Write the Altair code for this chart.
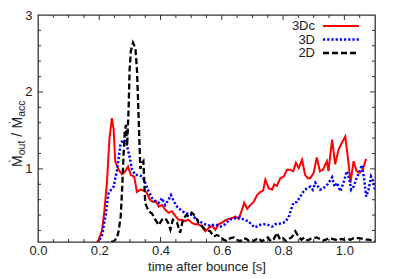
import altair as alt
import pandas as pd

# ---------------- data ----------------
red_t = [0.190, 0.198, 0.209, 0.216, 0.225, 0.233, 0.241, 0.247, 0.252, 0.263, 0.274, 0.283,
         0.294, 0.303, 0.314, 0.323, 0.334, 0.345, 0.355, 0.365, 0.375, 0.385, 0.394, 0.405,
         0.415, 0.426, 0.437, 0.448, 0.459, 0.470, 0.480, 0.491, 0.502, 0.513, 0.524, 0.535,
         0.546, 0.557, 0.568, 0.579, 0.589, 0.600, 0.611, 0.622, 0.633, 0.644, 0.655, 0.666,
         0.673, 0.683, 0.693, 0.704, 0.715, 0.726, 0.735, 0.742, 0.753, 0.764, 0.771, 0.780,
         0.791, 0.802, 0.813, 0.823, 0.833, 0.842, 0.851, 0.862, 0.872, 0.880, 0.889, 0.900,
         0.910, 0.920, 0.930, 0.943, 0.948, 0.960, 0.970, 0.981, 0.992, 1.003, 1.014, 1.020,
         1.030, 1.040, 1.050, 1.060, 1.071]
red_v = [0.03, 0.08, 0.20, 0.43, 0.82, 1.38, 1.66, 1.51, 1.10, 0.99, 0.93, 0.96,
         1.03, 0.92, 0.90, 0.70, 0.73, 0.72, 0.69, 0.60, 0.57, 0.58, 0.51, 0.53,
         0.47, 0.43, 0.45, 0.39, 0.34, 0.34, 0.32, 0.34, 0.30, 0.28, 0.28, 0.25,
         0.19, 0.23, 0.26, 0.21, 0.28, 0.30, 0.33, 0.35, 0.36, 0.38, 0.35, 0.47,
         0.56, 0.48, 0.53, 0.57, 0.66, 0.70, 0.72, 0.86, 0.75, 0.73, 0.80, 0.78,
         0.88, 0.90, 0.99, 0.99, 0.97, 1.08, 1.01, 1.12, 0.92, 0.88, 0.88, 0.95,
         1.15, 0.97, 0.99, 1.10, 0.97, 1.38, 1.06, 1.25, 1.34, 1.42, 1.06, 0.82,
         1.10, 0.97, 0.95, 0.99, 1.13]

blue_t = [0.195, 0.209, 0.220, 0.230, 0.240, 0.247, 0.258, 0.269, 0.277, 0.288, 0.299, 0.307,
          0.318, 0.329, 0.340, 0.350, 0.361, 0.372, 0.383, 0.394, 0.405, 0.415, 0.426, 0.434,
          0.443, 0.454, 0.470, 0.486, 0.502, 0.519, 0.535, 0.546, 0.562, 0.579, 0.595, 0.611,
          0.625, 0.644, 0.660, 0.671, 0.687, 0.698, 0.709, 0.720, 0.736, 0.753, 0.764, 0.774,
          0.791, 0.807, 0.818, 0.826, 0.834, 0.845, 0.856, 0.867, 0.878, 0.889, 0.897, 0.905,
          0.914, 0.921, 0.932, 0.945, 0.960, 0.968, 0.976, 0.987, 0.997, 1.008, 1.017, 1.022,
          1.030, 1.040, 1.052, 1.057, 1.065, 1.071, 1.079, 1.087, 1.094, 1.100]
blue_v = [0.03, 0.14, 0.38, 0.68, 0.74, 0.77, 0.99, 1.31, 1.38, 1.34, 1.16, 0.99,
          0.92, 0.92, 0.90, 0.82, 0.71, 0.62, 0.58, 0.56, 0.62, 0.53, 0.60, 0.66,
          0.58, 0.51, 0.45, 0.42, 0.40, 0.34, 0.30, 0.28, 0.26, 0.28, 0.25, 0.28,
          0.34, 0.36, 0.37, 0.34, 0.32, 0.27, 0.24, 0.27, 0.28, 0.27, 0.25, 0.28,
          0.29, 0.31, 0.37, 0.47, 0.56, 0.57, 0.64, 0.71, 0.75, 0.77, 0.73, 0.82,
          0.77, 0.73, 0.75, 0.80, 0.89, 0.77, 0.82, 0.71, 0.82, 0.97, 0.86, 0.73,
          0.77, 0.88, 0.99, 1.05, 0.86, 0.64, 0.73, 0.90, 0.84, 0.73]

black_t = [0.210, 0.230, 0.247, 0.258, 0.263, 0.270, 0.275, 0.279, 0.283, 0.287, 0.291, 0.296,
           0.299, 0.303, 0.310, 0.318, 0.323, 0.328, 0.334, 0.340, 0.344, 0.350, 0.356, 0.361,
           0.372, 0.383, 0.394, 0.405, 0.415, 0.425, 0.432, 0.440, 0.454, 0.464, 0.473, 0.484,
           0.493, 0.502, 0.513, 0.524, 0.535, 0.546, 0.562, 0.573, 0.584, 0.595, 0.606, 0.617,
           0.628, 0.640, 0.650, 0.660, 0.670, 0.680, 0.690, 0.700, 0.710, 0.720, 0.730, 0.740,
           0.750, 0.760, 0.770, 0.780, 0.790, 0.800, 0.810, 0.820, 0.830, 0.840, 0.850, 0.860,
           0.870, 0.880, 0.890, 0.900, 0.910, 0.920, 0.930, 0.940, 0.950, 0.960, 0.970, 0.980,
           0.990, 1.000, 1.010, 1.020, 1.030, 1.040, 1.050, 1.060, 1.070, 1.080, 1.090, 1.100]
black_v = [0.03, 0.04, 0.06, 0.10, 0.19, 0.38, 0.77, 1.16, 1.47, 1.57, 1.30, 1.81,
           2.29, 2.53, 2.64, 2.57, 2.29, 1.73, 1.00, 1.08, 1.10, 0.55, 0.50, 0.45,
           0.42, 0.34, 0.27, 0.34, 0.36, 0.30, 0.21, 0.34, 0.30, 0.17, 0.34, 0.40,
           0.38, 0.43, 0.39, 0.30, 0.26, 0.21, 0.19, 0.12, 0.14, 0.12, 0.08, 0.06,
           0.10, 0.11, 0.08, 0.06, 0.10, 0.09, 0.06, 0.05, 0.08, 0.10, 0.06, 0.08,
           0.11, 0.06, 0.09, 0.17, 0.08, 0.10, 0.06, 0.09, 0.12, 0.19, 0.12, 0.08,
           0.11, 0.07, 0.09, 0.10, 0.11, 0.09, 0.07, 0.08, 0.10, 0.09, 0.08, 0.07,
           0.09, 0.08, 0.09, 0.08, 0.10, 0.10, 0.10, 0.09, 0.08, 0.08, 0.07, 0.06]

series_names = ["3Dc", "3D", "2D"]
series_colors = ["#ff0000", "#0000ff", "#000000"]
series_dash = [[1, 0], [2.2, 2], [6, 3]]
series_width = [2.0, 2.5, 2.3]

x_labels = [0.0, 0.2, 0.4, 0.6, 0.8, 1.0]
y_labels = [1, 2, 3]
x_major = [0.2, 0.4, 0.6, 0.8, 1.0]
x_minor = [0.05, 0.1, 0.15, 0.25, 0.3, 0.35, 0.45, 0.5, 0.55, 0.65, 0.7, 0.75,
           0.85, 0.9, 0.95, 1.05]
y_major = [1, 2]
y_minor = [0.2, 0.4, 0.6, 0.8, 1.2, 1.4, 1.6, 1.8, 2.2, 2.4, 2.6, 2.8]

W, H = 337, 227
FONT = "Liberation Sans"
TXT = "#222222"

xscale = alt.Scale(domain=[0, 1.1], nice=False, zero=False)
yscale = alt.Scale(domain=[0.05, 3], nice=False, zero=False)
xaxis = alt.Axis(values=x_labels, format=".1f", tickSize=0, domain=False, grid=False,
                 labelFontSize=13, labelFont=FONT, labelColor=TXT, labelPadding=2,
                 labelFlush=False, labelOverlap=False,
                 title="time after bounce [s]", titleFont=FONT, titleFontSize=13,
                 titleFontWeight="normal", titleColor=TXT, titlePadding=3)
yaxis = alt.Axis(values=y_labels, format="d", tickSize=0, domain=False, grid=False,
                 labelFontSize=13, labelFont=FONT, labelColor=TXT, labelPadding=6,
                 labelFlush=False, labelOverlap=False, title=None)


def xe():
    return alt.X("t:Q", scale=xscale, axis=xaxis)


def ye():
    return alt.Y("v:Q", scale=yscale, axis=yaxis)


layers = []
for name, tt, vv, col, dash, sw in zip(series_names, [red_t, blue_t, black_t],
                                       [red_v, blue_v, black_v], series_colors,
                                       series_dash, series_width):
    d = pd.DataFrame({"t": tt, "v": vv})
    layers.append(
        alt.Chart(d).mark_line(clip=True, color=col, strokeDash=dash, strokeWidth=sw,
                               strokeCap="butt", strokeJoin="miter")
        .encode(x=xe(), y=ye())
    )

# inward ticks on all four sides
TICK_C = "#333333"
for vals, ln in [(x_major, 5), (x_minor, 3)]:
    d = pd.DataFrame({"t": vals})
    layers.append(alt.Chart(d).mark_rule(color=TICK_C, strokeWidth=1)
                  .encode(x=xe(), y=alt.value(H), y2=alt.value(H - ln)))
    layers.append(alt.Chart(d).mark_rule(color=TICK_C, strokeWidth=1)
                  .encode(x=xe(), y=alt.value(0), y2=alt.value(ln)))
for vals, ln in [(y_major, 5), (y_minor, 3)]:
    d = pd.DataFrame({"v": vals})
    layers.append(alt.Chart(d).mark_rule(color=TICK_C, strokeWidth=1)
                  .encode(y=ye(), x=alt.value(0), x2=alt.value(ln)))
    layers.append(alt.Chart(d).mark_rule(color=TICK_C, strokeWidth=1)
                  .encode(y=ye(), x=alt.value(W), x2=alt.value(W - ln)))

# y-axis title: M-dot_out / M-dot_acc (rotated, with subscripts)
one = pd.DataFrame({"a": [0]})
ytitle_parts = [("Ṁ", 14, 0.0, 0), ("out", 10.5, 11.7, 3), ("/", 14, 30.2, 0),
                ("Ṁ", 14, 38.5, 0), ("acc", 10.5, 50.2, 3)]
for txt, fs, dx, dy in ytitle_parts:
    layers.append(alt.Chart(one).mark_text(text=txt, font=FONT, fontSize=fs, color=TXT,
                                           angle=270, align="left", baseline="alphabetic",
                                           dx=dx, dy=dy)
                  .encode(x=alt.value(-16.5), y=alt.value(152)))

# legend (labels on the left, line samples on the right)
leg_rows = [11, 24.5, 38]
for name, col, dash, sw, ry in zip(series_names, series_colors, series_dash,
                                   series_width, leg_rows):
    layers.append(alt.Chart(one).mark_text(text=name, font=FONT, fontSize=13, color=TXT,
                                           align="right", baseline="middle")
                  .encode(x=alt.value(277), y=alt.value(ry)))
    layers.append(alt.Chart(one).mark_rule(color=col, strokeDash=dash, strokeWidth=sw,
                                           strokeCap="butt")
                  .encode(x=alt.value(285), x2=alt.value(321), y=alt.value(ry)))

chart = (
    alt.layer(*layers)
    .properties(width=W, height=H,
                autosize=alt.AutoSizeParams(type="none"),
                padding={"left": 30, "top": 7, "right": 16, "bottom": 36})
    .configure_view(stroke="#333333", strokeWidth=1.3)
)

chart.save("out.html", embed_options={"renderer": "svg", "actions": False})
